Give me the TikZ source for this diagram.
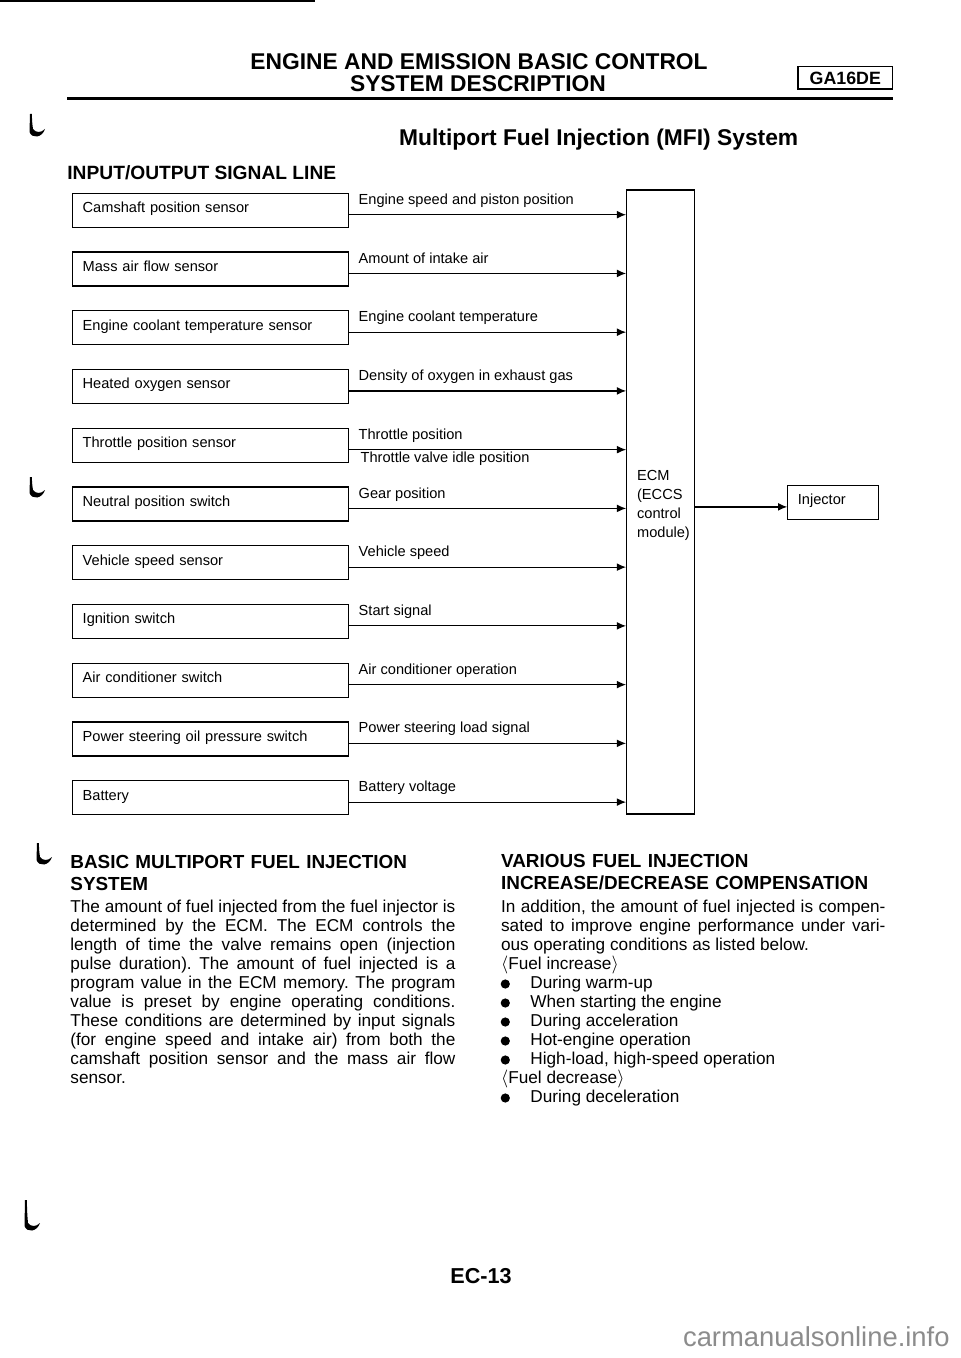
\documentclass[tikz,border=0pt]{standalone}
\usepackage{fontspec}
\setmainfont{Liberation Sans}
\usetikzlibrary{arrows.meta,positioning}
\tolerance=9999
\hyphenpenalty=10000
\frenchspacing

\begin{document}
\begin{tikzpicture}[x=0.5pt,y=-0.5pt,>={Latex[length=4.6pt,width=3.9pt]},
  sensorbox/.style={draw,line width=0.6pt,inner xsep=5pt,inner ysep=0pt,text width=128pt,
    minimum height=17pt,text height=5.2pt,text depth=2.8pt,align=left,font=\fontsize{7.3}{9}\selectfont},
  siglabel/.style={anchor=base west,inner sep=0pt,font=\fontsize{7.3}{9}\selectfont},
  headline/.style={anchor=base,inner sep=0pt,font=\bfseries\fontsize{11.4}{13}\selectfont},
  sechead/.style={anchor=base west,inner sep=0pt,text width=200pt,align=left,font=\bfseries\fontsize{9.45}{11}\selectfont},
  bodytext/.style={anchor=base west,inner sep=0pt,font=\fontsize{8.6}{9.5}\selectfont}]
\useasboundingbox (0,0) rectangle (960,1358);
% page header
\draw[line width=0.7pt] (0,1) -- (315,1);
\node[headline] (ttl1) at (479,70) {ENGINE AND EMISSION BASIC CONTROL};
\node[headline] (ttl2) at (478,92) {SYSTEM DESCRIPTION};
\node[draw,line width=0.8pt,minimum width=47.3pt,minimum height=11.3pt,inner sep=0pt,
  font=\bfseries\fontsize{8.9}{10}\selectfont] (eng) at (845.3,78) {GA16DE};
\draw[line width=1.75pt] (67,98.3) -- (892.6,98.3);
\node[headline] (mfi) at (598.7,146) {Multiport Fuel Injection (MFI) System};
\node[anchor=base west,inner sep=0pt,font=\bfseries\fontsize{9.6}{11}\selectfont] (io) at (67,180) {INPUT/OUTPUT SIGNAL LINE};
% margin hooks
\foreach \hx/\hy/\hl in {30/114/15,30/477/13,37/843/14,25/1200/23}{
  \fill[shift={(\hx,\hy)}] (0,0) -- (1.8,0) .. controls (2.2,{\hl*0.6}) .. (3,\hl)
    .. controls (6,{\hl+4}) and (11,{\hl+4}) .. (15,\hl)
    .. controls (12,{\hl+9}) and (2,{\hl+10}) .. (-0.5,{\hl+3}) -- cycle;
}
% control module and output
\node[draw,line width=0.6pt,minimum width=34pt,minimum height=312pt,inner sep=0pt] (ecm) at (660.7,502) {};
\node[anchor=base west,inner sep=0pt,text width=32pt,align=left,font=\fontsize{7.3}{9.5}\selectfont] (ecmtxt)
  at (636.7,480.5) {ECM\\(ECCS\\control\\module)};
\node[sensorbox,text width=35.5pt] (inj) at (833.35,502.5) {Injector};
\draw[->,line width=0.6pt] ([yshift=-2.2pt]inj.west -| ecm.east) -- ([yshift=-2.2pt]inj.west);
% input sensors and signals
\foreach \i/\name/\sig in {1/Camshaft position sensor/Engine speed and piston position,
  2/Mass air flow sensor/Amount of intake air,
  3/Engine coolant temperature sensor/Engine coolant temperature,
  4/Heated oxygen sensor/Density of oxygen in exhaust gas,
  5/Throttle position sensor/Throttle position,
  6/Neutral position switch/Gear position,
  7/Vehicle speed sensor/Vehicle speed,
  8/Ignition switch/Start signal,
  9/Air conditioner switch/Air conditioner operation,
  10/Power steering oil pressure switch/Power steering load signal,
  11/Battery/Battery voltage}{
  \node[sensorbox] (s\i) at (210.7,{210.3+58.74*(\i-1)}) {\name};
  \node[siglabel] (l\i) at ([xshift=4.5pt,yshift=-5.8pt]s\i.north east) {\sig};
  \draw[->,line width=0.6pt] ([yshift=-2.2pt]s\i.east) -- ([yshift=-2.2pt]s\i.east -| ecm.west);
}
\node[siglabel] (l5b) at ([xshift=5.5pt,yshift=-17.5pt]s5.north east) {Throttle valve idle position};
% basic injection text
\node[sechead] (bh) at (70,868) {BASIC MULTIPORT FUEL INJECTION\\SYSTEM};
\node[bodytext,text width=192.5pt,align=justify] (bp) at (70,912) {The amount of fuel injected from the fuel injector is\linebreak
  determined by the ECM. The ECM controls the\linebreak
  length of time the valve remains open (injection\linebreak
  pulse duration). The amount of fuel injected is a\linebreak
  program value in the ECM memory. The program\linebreak
  value is preset by engine operating conditions.\linebreak
  These conditions are determined by input signals\linebreak
  (for engine speed and intake air) from both the\linebreak
  camshaft position sensor and the mass air flow\linebreak
  sensor.};
% compensation text
\node[sechead] (vh) at (500.7,867) {VARIOUS FUEL INJECTION\\INCREASE/DECREASE COMPENSATION};
\node[bodytext,text width=192.2pt,align=justify] (vp) at (500.7,912) {In addition, the amount of fuel injected is compen-\linebreak
  sated to improve engine performance under vari-\linebreak
  ous operating conditions as listed below.};
\foreach \k/\txt in {3/{$\langle$Fuel increase$\rangle$},9/{$\langle$Fuel decrease$\rangle$}}{
  \node[bodytext] (g\k) at (500.7,{912+19*\k}) {\txt};
}
\foreach \k/\txt in {4/During warm-up,5/When starting the engine,6/During acceleration,
  7/Hot-engine operation,8/{High-load, high-speed operation},10/During deceleration}{
  \fill (505.3,{908+19*\k}) circle (2.3pt);
  \node[bodytext] (b\k) at (530,{912+19*\k}) {\txt};
}
% page footer
\node[anchor=base,inner sep=0pt,font=\bfseries\fontsize{10.8}{12}\selectfont] (pg) at (481,1283) {EC-13};
\node[anchor=base east,inner sep=0pt,text=black!45,font=\fontsize{13.7}{15}\selectfont] (wm) at (950,1346) {carmanualsonline.info};
\end{tikzpicture}
\end{document}
